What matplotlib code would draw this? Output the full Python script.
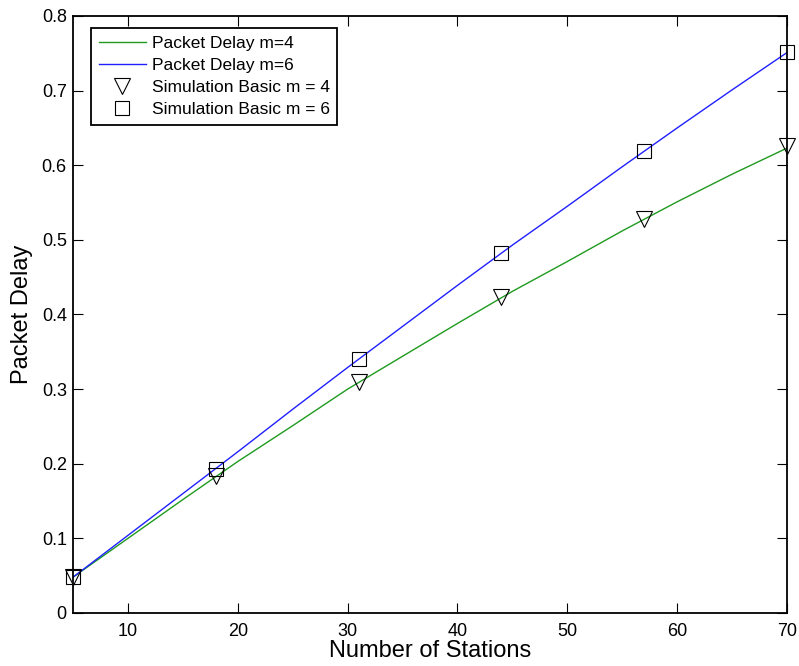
import matplotlib.pyplot as plt

plt.rcParams['font.family'] = ['Liberation Sans', 'DejaVu Sans']

# analytic curves
stations = [5, 10, 15, 20, 25, 30, 35, 40, 45, 50, 55, 60, 65, 70]
delay_m4 = [0.048, 0.100, 0.152, 0.203, 0.251, 0.300, 0.344, 0.388, 0.431,
            0.471, 0.512, 0.551, 0.588, 0.623]
delay_m6 = [0.048, 0.104, 0.160, 0.216, 0.273, 0.329, 0.384, 0.439, 0.493,
            0.545, 0.598, 0.650, 0.701, 0.751]

# simulation points
sim_stations = [5, 18, 31, 44, 57, 70]
sim_m4 = [0.048, 0.184, 0.309, 0.423, 0.528, 0.626]
sim_m6 = [0.048, 0.193, 0.340, 0.482, 0.619, 0.752]

fig = plt.figure(figsize=(7.99, 6.66), dpi=100)
ax = fig.add_axes([0.0914, 0.0796, 0.8936, 0.8964])

ax.plot(stations, delay_m4, color='#1f9a1f', lw=1, label='Packet Delay m=4')
ax.plot(stations, delay_m6, color='#2020ff', lw=1, label='Packet Delay m=6')
ax.plot(sim_stations, sim_m4, 'v', ms=11, mfc='none', mec='k', mew=0.8,
        label='Simulation Basic m = 4', clip_on=False)
ax.plot(sim_stations, sim_m6, 's', ms=10, mfc='none', mec='k', mew=0.8,
        label='Simulation Basic m = 6', clip_on=False)

ax.set_xlim(5, 70)
ax.set_ylim(0, 0.8)
ax.set_xticks([10, 20, 30, 40, 50, 60, 70])
ax.set_yticks([0, 0.1, 0.2, 0.3, 0.4, 0.5, 0.6, 0.7, 0.8])
ax.set_yticklabels(['0', '0.1', '0.2', '0.3', '0.4', '0.5', '0.6', '0.7', '0.8'])
ax.tick_params(direction='in', top=True, right=True, length=7, width=0.8,
               labelsize=13)
ax.tick_params(axis='x', pad=7)
ax.tick_params(axis='y', pad=4.5)
for s in ax.spines.values():
    s.set_linewidth(1.3)

ax.set_xlabel('Number of Stations', fontsize=17, labelpad=0)
ax.set_ylabel('Packet Delay', fontsize=17, labelpad=6)

leg = ax.legend(loc='upper left', bbox_to_anchor=(0.025, 0.98), fontsize=12.5,
                fancybox=False, framealpha=1, edgecolor='k',
                handlelength=2.7, handletextpad=0.35, borderpad=0.45,
                labelspacing=0.4, borderaxespad=0)
leg.get_frame().set_linewidth(1.3)

plt.savefig('out.png', dpi=100)
